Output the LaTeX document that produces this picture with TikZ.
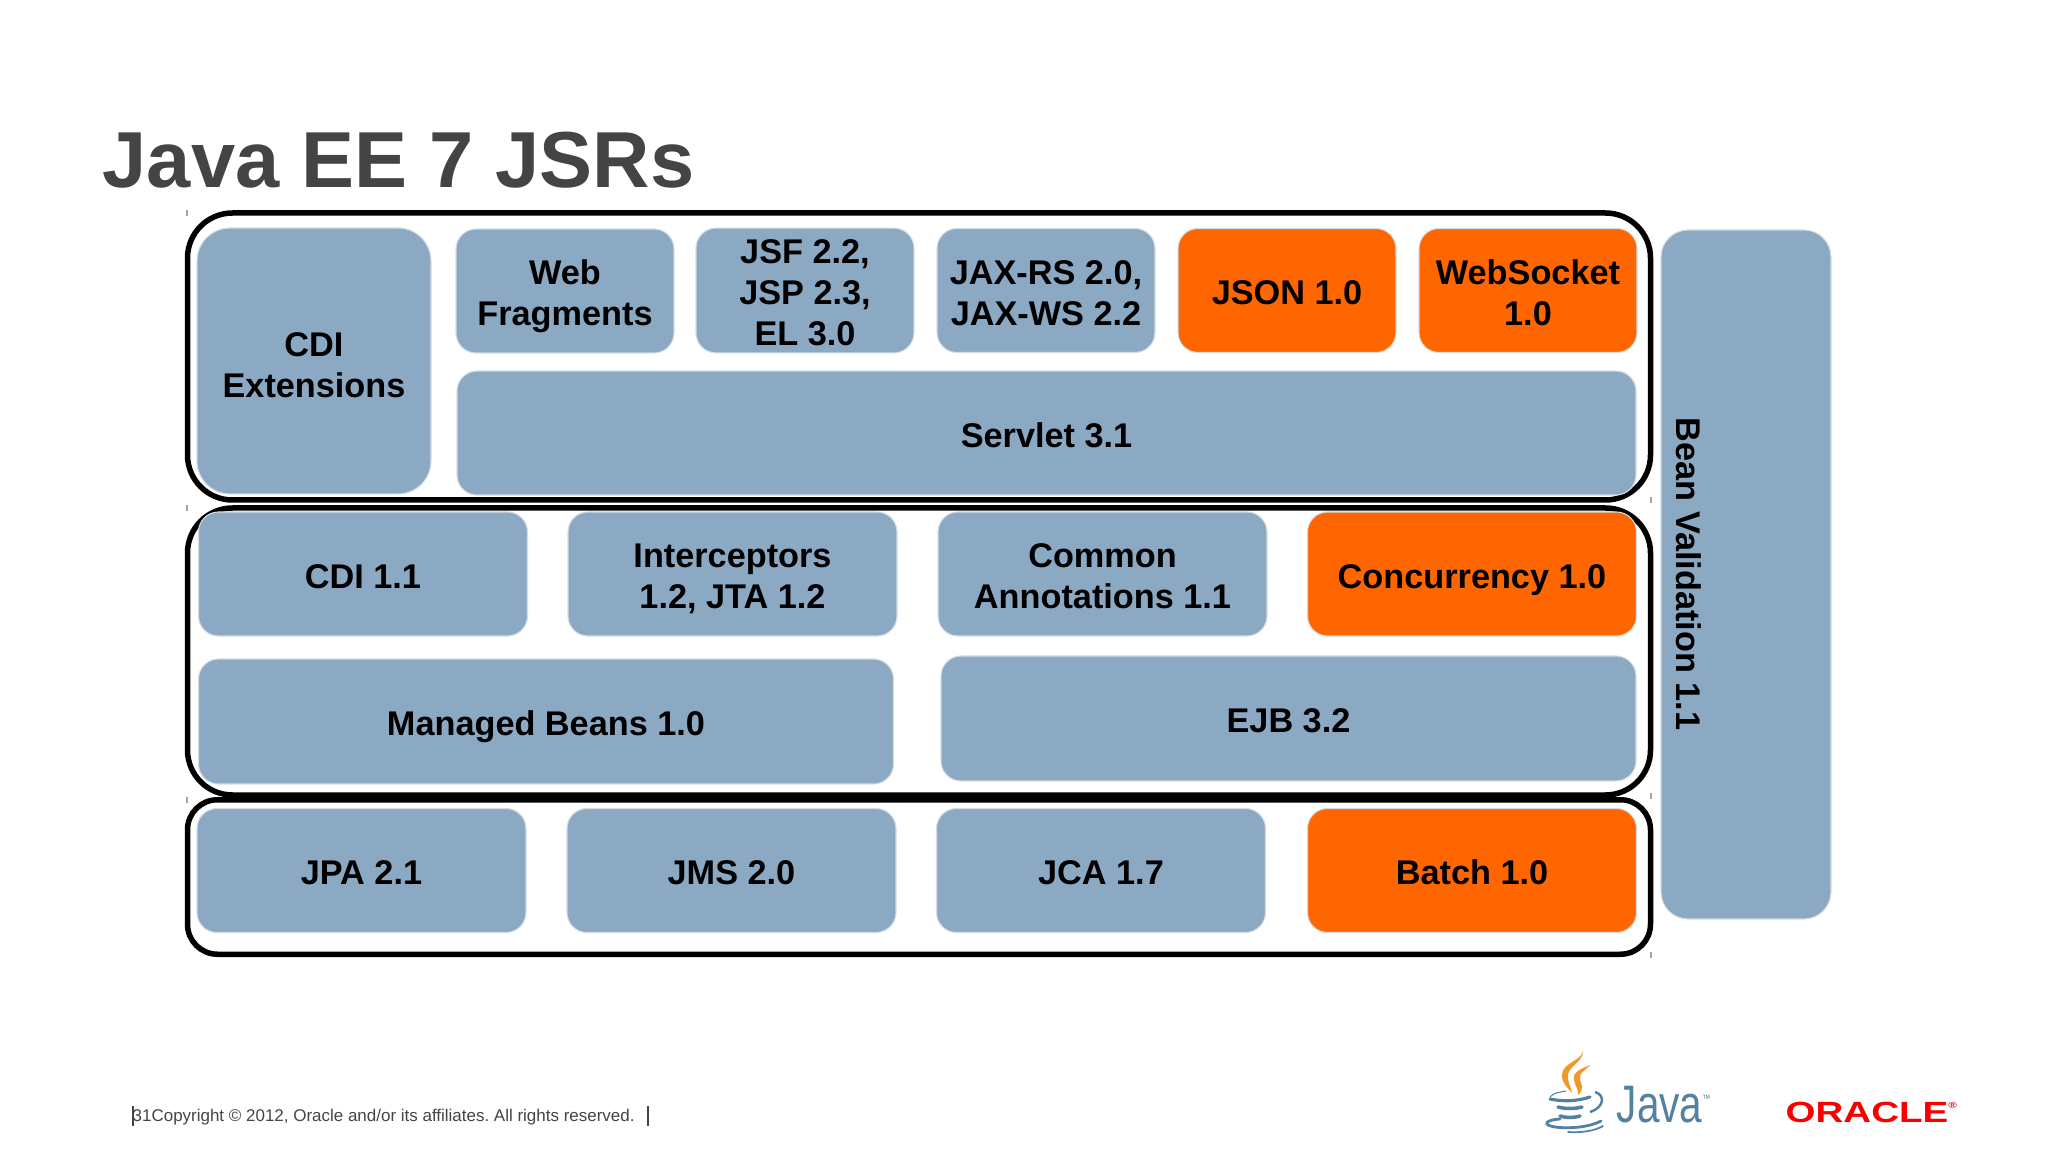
\documentclass[tikz,border=0pt]{standalone}
\usepackage{fontspec}
\setmainfont{Liberation Sans}
\definecolor{specblue}{HTML}{8CA9C4}
\definecolor{specedge}{HTML}{D5DCE3}
\definecolor{neworange}{HTML}{FF6600}
\definecolor{titlegray}{HTML}{444444}
\definecolor{javablue}{HTML}{5382A1}
\definecolor{javaflame}{HTML}{F0982A}
\definecolor{oraclered}{HTML}{F80000}
\newcommand{\specstrut}{\rule[-2.1pt]{0pt}{12.3pt}}
\tikzset{
specbox/.style={ % Sets the properties for each spec
rectangle,
draw=specedge,
line width=.3pt,
fill=specblue,
rounded corners=.2cm,
inner sep=0pt,
outer sep=0pt,
align=center,
font=\fontsize{9.75}{11.6}\selectfont\bfseries,
execute at begin node={\specstrut}},
newspec/.style={ % New specs in this release
specbox,
fill=neworange},
multiline/.style={execute at begin node={\rule{0pt}{#1}}}, % Keeps stacked text centred
multiline/.default=21.8pt,
topcell/.style={minimum width=2.18cm, minimum height=1.24cm},
midcell/.style={minimum width=3.29cm, minimum height=1.24cm},
widecell/.style={minimum width=6.95cm, minimum height=1.25cm},
groupframe/.style={ % Black frame round one tier
rectangle,
draw=black,
line width=.055cm,
rounded corners=.45cm,
minimum width=14.63cm,
outer sep=0pt},
cornertick/.style={draw=gray!70, line width=.4pt}}

\begin{document}
\begin{tikzpicture}[y=-1cm]
\useasboundingbox (0,0) rectangle (20.48,11.52);
\node[anchor=base west, inner sep=0pt, text=titlegray, font=\fontsize{22.6}{27}\selectfont\bfseries] (title) at (1.02,1.88) {Java EE 7 JSRs};
% tiers
\node[groupframe, minimum height=2.87cm] (webtier) at (9.19,3.565) {};
\node[groupframe, minimum height=2.87cm] (bizatier) at (9.19,6.515) {};
\node[groupframe, rounded corners=.3cm, minimum height=1.545cm] (datatier) at (9.19,8.77) {};
% small marks at the frame corners
\foreach \tx/\ty in {1.87/2.13, 1.87/5.08, 1.87/8.00, 16.51/5.00, 16.51/7.96, 16.51/9.55}
\draw[cornertick] (\tx,\ty-.03) -- (\tx,\ty+.03);
% first tier
\node[specbox, multiline=23pt, rounded corners=.33cm, minimum width=2.34cm, minimum height=2.66cm] (cdiext) at (3.14,3.61) {CDI\\Extensions};
\node[specbox, multiline, topcell] (webfrag) at (5.65,2.91) {Web\\Fragments};
\node[specbox, multiline=33.4pt, topcell] (jsf) at (8.05,2.905) {JSF 2.2,\\JSP 2.3,\\EL 3.0};
\node[specbox, multiline, topcell] (jaxrs) at (10.46,2.905) {JAX-RS 2.0,\\JAX-WS 2.2};
\node[newspec, topcell] (json) at (12.87,2.905) {JSON 1.0};
\node[newspec, multiline, topcell] (websocket) at (15.28,2.905) {WebSocket\\1.0};
\node[specbox, minimum width=11.79cm, minimum height=1.24cm] (servlet) at (10.465,4.33) {Servlet 3.1};
% second tier
\node[specbox, midcell] (cdi) at (3.63,5.74) {CDI 1.1};
\node[specbox, multiline, midcell] (interceptors) at (7.325,5.74) {Interceptors\\1.2, JTA 1.2};
\node[specbox, multiline, midcell] (annotations) at (11.025,5.74) {Common\\Annotations 1.1};
\node[newspec, midcell] (concurrency) at (14.72,5.74) {Concurrency 1.0};
\node[specbox, widecell] (managed) at (5.46,7.215) {Managed Beans 1.0};
\node[specbox, widecell] (ejb) at (12.885,7.185) {EJB 3.2};
% third tier
\node[specbox, midcell] (jpa) at (3.615,8.705) {JPA 2.1};
\node[specbox, midcell] (jms) at (7.315,8.705) {JMS 2.0};
\node[specbox, midcell] (jca) at (11.01,8.705) {JCA 1.7};
\node[newspec, midcell] (batch) at (14.72,8.705) {Batch 1.0};
% side bar
\node[specbox, rounded corners=.27cm, minimum width=1.70cm, minimum height=6.89cm] (beanbox) at (17.46,5.745) {};
\node[rotate=-90, inner sep=0pt, font=\fontsize{9.75}{11.6}\selectfont\bfseries] (beanlabel) at (16.89,5.74) {Bean Validation 1.1};
% footer
\node[anchor=base west, inner sep=0pt, text=titlegray, font=\fontsize{4.83}{6}\selectfont\frenchspacing] (footer) at (1.32,11.21) {31Copyright © 2012, Oracle and/or its affiliates. All rights reserved.};
\coordinate (barone) at (1.33,11.06);
\coordinate (bartwo) at (6.48,11.06);
\draw[titlegray, line width=.35pt] (barone) -- ++(0,.20);
\draw[titlegray, line width=.6pt] (bartwo) -- ++(0,.20);
% java logo
\fill[javaflame] (15.83,10.49) .. controls (15.85,10.60) and (15.62,10.62) .. (15.62,10.75) .. controls (15.62,10.84) and (15.68,10.88) .. (15.72,10.93)
.. controls (15.71,10.86) and (15.67,10.82) .. (15.68,10.74) .. controls (15.70,10.66) and (15.85,10.60) .. (15.83,10.49) -- cycle;
\fill[javaflame] (15.91,10.65) .. controls (15.82,10.68) and (15.72,10.72) .. (15.74,10.80) .. controls (15.75,10.86) and (15.79,10.90) .. (15.78,10.95)
.. controls (15.84,10.90) and (15.82,10.84) .. (15.80,10.80) .. controls (15.78,10.74) and (15.86,10.69) .. (15.91,10.65) -- cycle;
\draw[javablue, line width=.9pt, line cap=round] (15.50,10.99) .. controls (15.64,11.02) and (15.78,11.01) .. (15.90,10.97);
\draw[javablue, line width=.3pt] (15.50,10.97) .. controls (15.53,10.93) and (15.60,10.92) .. (15.66,10.91);
\draw[javablue, line width=.7pt] (15.95,10.92) .. controls (16.05,10.95) and (16.05,11.07) .. (15.90,11.12);
\draw[javablue, line width=1pt, line cap=round] (15.58,11.07) .. controls (15.65,11.09) and (15.75,11.09) .. (15.82,11.07);
\draw[javablue, line width=1pt, line cap=round] (15.60,11.16) .. controls (15.66,11.18) and (15.74,11.18) .. (15.80,11.16);
\draw[javablue, line width=.8pt, line cap=round] (15.60,11.19) .. controls (15.45,11.20) and (15.42,11.25) .. (15.55,11.27) .. controls (15.70,11.29) and (15.90,11.27) .. (16.01,11.21);
\draw[javablue, line width=.5pt, line cap=round] (15.68,11.32) .. controls (15.80,11.33) and (15.95,11.31) .. (16.03,11.26);
\node[anchor=base west, inner sep=0pt, text=javablue, font=\fontsize{15}{18}\selectfont] (javaname) at (16.16,11.22) {\scalebox{.77}[1]{Java\raisebox{.7ex}{\fontsize{3}{3}\selectfont ™}}};
% oracle logo
\node[anchor=base west, inner sep=0pt, text=oraclered, font=\fontsize{8.3}{10}\selectfont\bfseries] (oraclename) at (17.85,11.22) {\scalebox{1.32}[1]{ORACLE\raisebox{.9ex}{\fontsize{2.5}{3}\selectfont ®}}};
\end{tikzpicture}
\end{document}
